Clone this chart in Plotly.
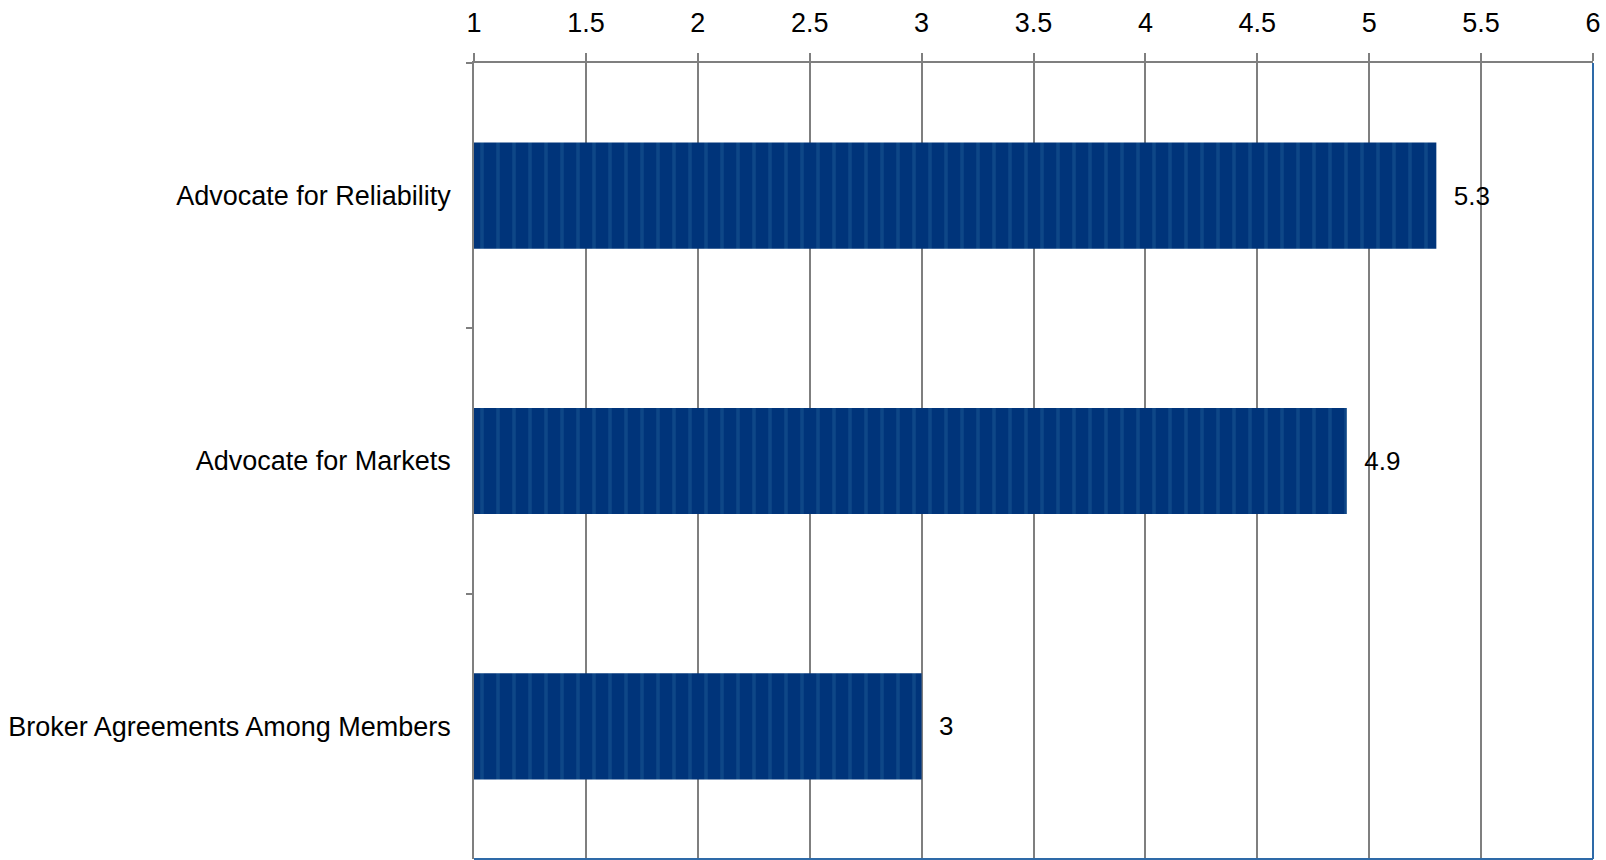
import plotly.graph_objects as go

categories = ["Advocate for Reliability", "Advocate for Markets", "Broker Agreements Among Members"]
values = [5.3, 4.9, 3]
value_labels = ["5.3", "4.9", "3"]

GRID = "#7f7f7f"
BAR = "#00347a"
STRIPE = "#1c5a93"
FONT = "Liberation Sans, Arial, sans-serif"

fig = go.Figure()
fig.add_trace(go.Bar(
    y=categories,
    x=values,
    orientation="h",
    width=0.4,
    marker=dict(
        color=BAR,
        line=dict(width=0),
        pattern=dict(shape="|", fgcolor=STRIPE, bgcolor=BAR, size=16, solidity=0.22, fillmode="overlay"),
    ),
    text=["\u00a0\u00a0" + t for t in value_labels],
    textposition="outside",
    textfont=dict(family=FONT, size=26, color="#000000"),
    cliponaxis=False,
))

fig.update_layout(
    width=1606,
    height=860,
    margin=dict(l=474, r=13, t=63, b=1, pad=0),
    plot_bgcolor="white",
    paper_bgcolor="white",
    showlegend=False,
    font=dict(family=FONT, size=27, color="#000000"),
    xaxis=dict(
        side="top",
        range=[1, 6],
        dtick=0.5,
        tick0=1,
        showgrid=True,
        gridcolor=GRID,
        gridwidth=1.5,
        showline=True,
        linecolor=GRID,
        linewidth=1.5,
        ticks="outside",
        ticklen=8,
        tickwidth=1.5,
        tickcolor=GRID,
        tickfont=dict(size=27),
        ticklabelstandoff=10,
        zeroline=False,
    ),
    yaxis=dict(
        autorange="reversed",
        showgrid=False,
        showline=True,
        linecolor=GRID,
        linewidth=1.5,
        ticks="outside",
        tickson="boundaries",
        ticklen=6,
        tickwidth=1.5,
        tickcolor=GRID,
        tickfont=dict(size=27),
        ticklabelstandoff=16,
    ),
    shapes=[
        dict(type="line", xref="x domain", yref="y domain", x0=1, x1=1, y0=0, y1=1,
             line=dict(color="#2e6aa8", width=2)),
        dict(type="line", xref="x domain", yref="y domain", x0=0, x1=1, y0=0, y1=0,
             line=dict(color="#2e6aa8", width=2)),
    ],
)

fig.write_html("out.html")
